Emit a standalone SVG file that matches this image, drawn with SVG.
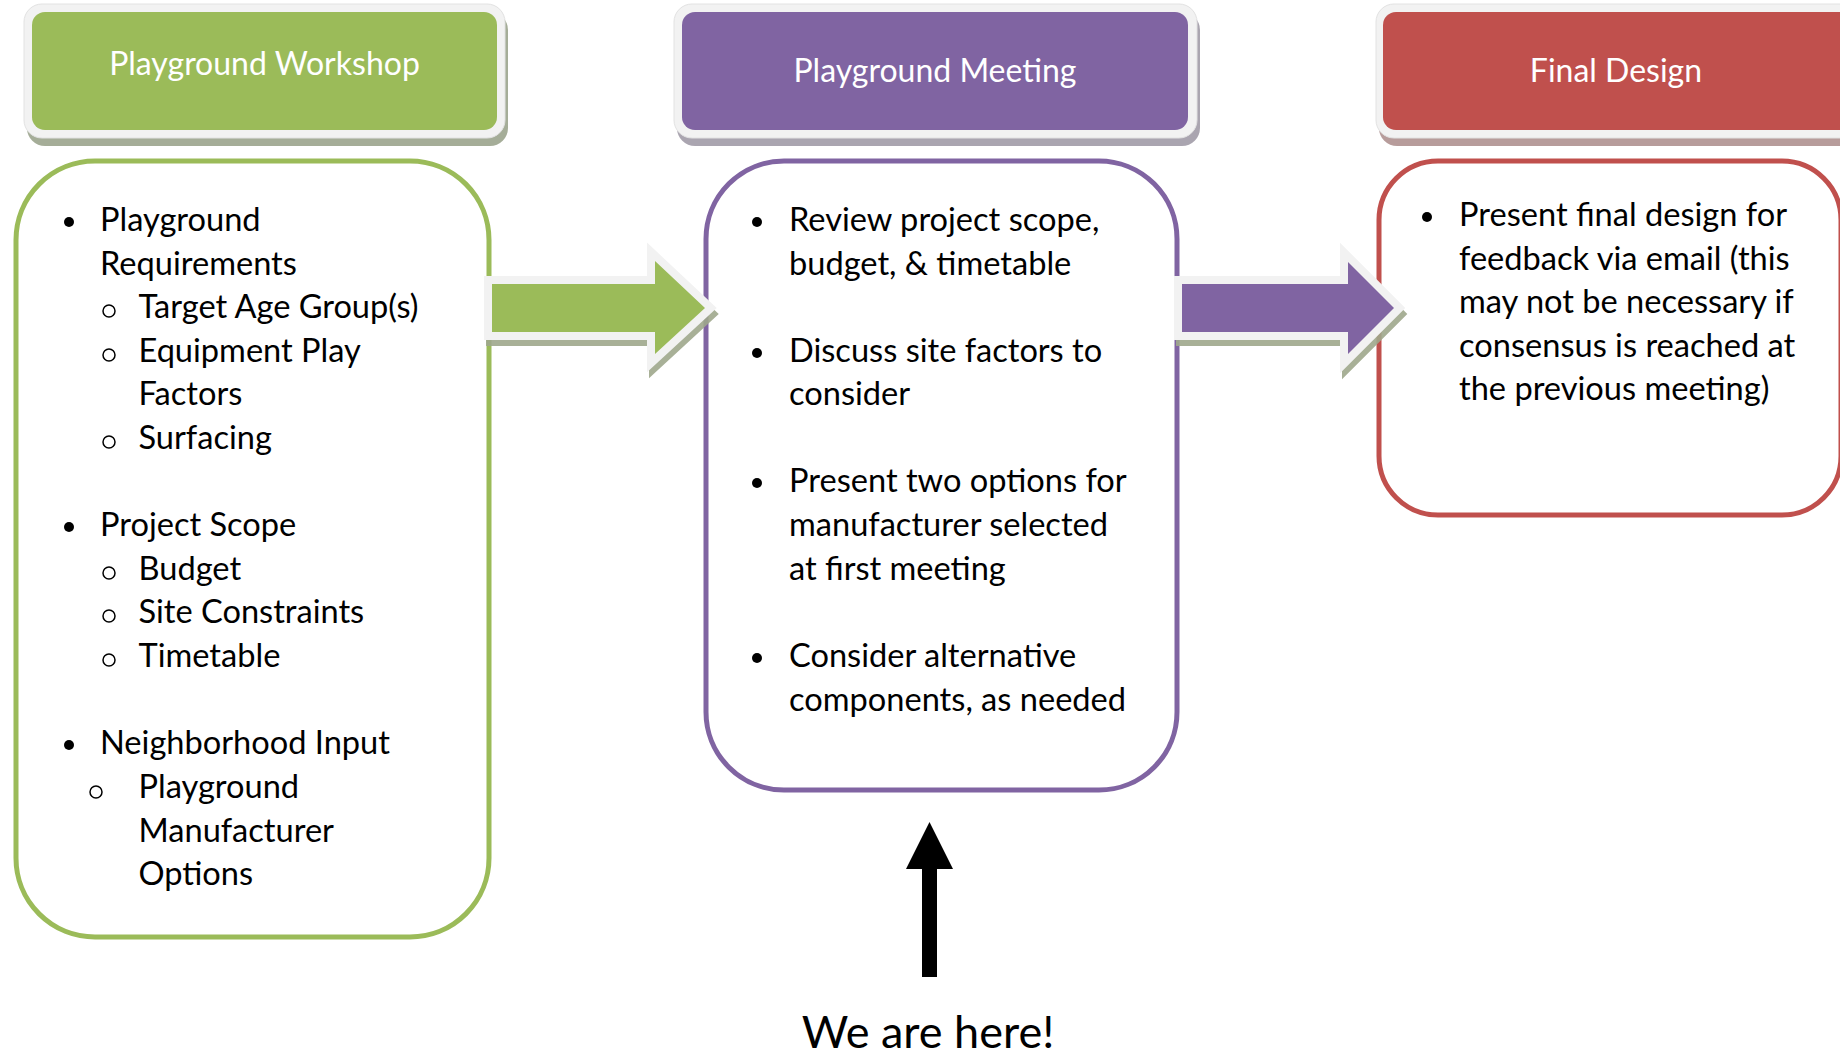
<svg xmlns="http://www.w3.org/2000/svg" width="1840" height="1058" viewBox="0 0 1840 1058">
<style>
.hdr{font-family:Lato,"Liberation Sans",sans-serif;font-size:32px;fill:#ffffff;text-anchor:middle}
.t{font-family:Lato,"Liberation Sans",sans-serif;font-size:32.6px;fill:#000000}
.big{font-family:Lato,"Liberation Sans",sans-serif;font-size:45px;fill:#000000;text-anchor:middle}
.rim{fill:#f2f2f2;stroke:#e2e2e2;stroke-width:1}
.dot{fill:#000000}
.ring{fill:none;stroke:#000000;stroke-width:1.5}
.box{fill:#ffffff;stroke-width:5}
.aol{fill:#f2f2f2;stroke:#f2f2f2;stroke-width:16;stroke-linejoin:miter;stroke-miterlimit:10}
.ash{fill:#9fa88c;stroke:#9fa88c;stroke-width:16;stroke-linejoin:miter;stroke-miterlimit:10;opacity:0.9}
</style>
<rect width="1840" height="1058" fill="#ffffff"/>

<g id="workshop-header">
<rect x="27" y="12" width="481" height="134" rx="18" fill="#a5ad98"/>
<rect class="rim" x="24" y="4" width="481" height="134" rx="18"/>
<rect x="32" y="12" width="465" height="118" rx="13" fill="#9bbb59"/>
<text class="hdr" x="264.5" y="75">Playground Workshop</text>
</g>

<g id="meeting-header">
<rect x="677" y="12" width="523" height="134" rx="18" fill="#aaa5b0"/>
<rect class="rim" x="674" y="4" width="523" height="134" rx="18"/>
<rect x="682" y="12" width="506" height="118" rx="13" fill="#8064a2"/>
<text class="hdr" x="935" y="82">Playground Meeting</text>
</g>

<g id="final-header">
<rect x="1379" y="12" width="520" height="134" rx="18" fill="#b79c9b"/>
<rect class="rim" x="1376" y="4" width="520" height="134" rx="18"/>
<rect x="1383" y="12" width="505" height="118" rx="13" fill="#c0504d"/>
<text class="hdr" x="1616" y="82">Final Design</text>
</g>

<g id="workshop-box">
<rect class="box" x="16" y="161" width="473" height="776" rx="79" stroke="#9bbb59"/>
<circle class="dot" cx="69" cy="222" r="5"/>
<text class="t" x="100" y="231">Playground</text>
<text class="t" x="100" y="275">Requirements</text>
<circle class="ring" cx="109" cy="311" r="6"/>
<text class="t" x="138.5" y="318">Target Age Group(s)</text>
<circle class="ring" cx="109" cy="355" r="6"/>
<text class="t" x="138.5" y="362">Equipment Play</text>
<text class="t" x="138.5" y="405">Factors</text>
<circle class="ring" cx="109" cy="442" r="6"/>
<text class="t" x="138.5" y="449">Surfacing</text>
<circle class="dot" cx="69" cy="527" r="5"/>
<text class="t" x="100" y="536">Project Scope</text>
<circle class="ring" cx="109" cy="573" r="6"/>
<text class="t" x="138.5" y="580">Budget</text>
<circle class="ring" cx="109" cy="616" r="6"/>
<text class="t" x="138.5" y="623">Site Constraints</text>
<circle class="ring" cx="109" cy="660" r="6"/>
<text class="t" x="138.5" y="667">Timetable</text>
<circle class="dot" cx="69" cy="745" r="5"/>
<text class="t" x="100" y="754">Neighborhood Input</text>
<circle class="ring" cx="96" cy="792" r="6"/>
<text class="t" x="138.5" y="798">Playground</text>
<text class="t" x="138.5" y="842">Manufacturer</text>
<text class="t" x="138.5" y="885">Options</text>
</g>

<g id="meeting-box">
<rect class="box" x="706" y="161" width="471" height="629" rx="78" stroke="#8064a2"/>
<circle class="dot" cx="757" cy="222" r="5"/>
<text class="t" x="789" y="231">Review project scope,</text>
<text class="t" x="789" y="275">budget, &amp; timetable</text>
<circle class="dot" cx="757" cy="353" r="5"/>
<text class="t" x="789" y="362">Discuss site factors to</text>
<text class="t" x="789" y="405">consider</text>
<circle class="dot" cx="757" cy="483" r="5"/>
<text class="t" x="789" y="492">Present two options for</text>
<text class="t" x="789" y="536">manufacturer selected</text>
<text class="t" x="789" y="580">at first meeting</text>
<circle class="dot" cx="757" cy="658" r="5"/>
<text class="t" x="789" y="667">Consider alternative</text>
<text class="t" x="789" y="711">components, as needed</text>
</g>

<g id="final-box">
<rect class="box" x="1379" y="161" width="462" height="354" rx="59" stroke="#c0504d"/>
<circle class="dot" cx="1427" cy="217" r="5"/>
<text class="t" x="1459" y="226">Present final design for</text>
<text class="t" x="1459" y="269.5">feedback via email (this</text>
<text class="t" x="1459" y="313">may not be necessary if</text>
<text class="t" x="1459" y="356.5">consensus is reached at</text>
<text class="t" x="1459" y="400">the previous meeting)</text>
</g>

<g id="connectors">
<polygon class="ash" points="494,290 657,290 657,267 707,314 657,360 657,338 494,338"/>
<polygon class="aol" points="492,284 655,284 655,261 705,308 655,354 655,332 492,332"/>
<polygon fill="#9bbb59" points="492,284 655,284 655,261 705,308 655,354 655,332 492,332"/>
<polygon class="ash" points="1184,290 1350,290 1350,268 1396,314 1350,360 1350,338 1184,338"/>
<polygon class="aol" points="1182,284 1348,284 1348,262 1394,308 1348,354 1348,332 1182,332"/>
<polygon fill="#8064a2" points="1182,284 1348,284 1348,262 1394,308 1348,354 1348,332 1182,332"/>
<polygon fill="#000000" points="922,977 937,977 937,869 953,869 929.5,822 906,869 922,869"/>
</g>

<text class="big" x="928" y="1048">We are here!</text>
</svg>
